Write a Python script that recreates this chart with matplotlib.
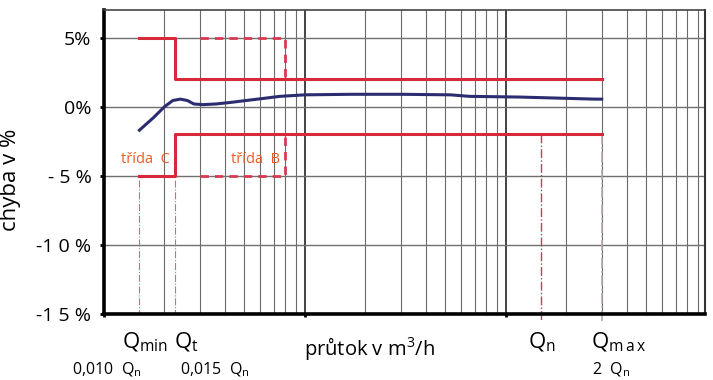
import numpy as np
import matplotlib
matplotlib.use('Agg')
import matplotlib.pyplot as plt
from matplotlib.ticker import LogLocator, NullFormatter, FixedLocator

plt.rcParams['font.family'] = ['Open Sans', 'DejaVu Sans']
plt.rcParams['mathtext.default'] = 'regular'

flow = [1.5, 1.76, 2.0, 2.2, 2.4, 2.6, 2.8, 3.1, 3.6, 4.2, 5.1, 6.2, 7.5,
        10, 17, 30, 53, 66, 117, 186, 277, 300]
error = [-1.7, -0.8, 0.0, 0.45, 0.55, 0.45, 0.2, 0.15, 0.2, 0.3, 0.45, 0.6, 0.75,
         0.86, 0.9, 0.9, 0.86, 0.75, 0.7, 0.62, 0.55, 0.55]

# characteristic flows
q_min, q_t, q_n, q_max = 1.5, 2.25, 150, 300

# error limits, class C (solid) and class B (dashed)
limit_c_flow = [q_min, q_t, q_t, q_max]
limit_c_upper = [5, 5, 2, 2]
limit_c_lower = [-5, -5, -2, -2]
limit_b_flow = [3, 8, 8]
limit_b_upper = [5, 5, 2]
limit_b_lower = [-5, -5, -2]

y_ticks = [5, 0, -5, -10, -15]
y_labels = ['5%', '0%', '- 5 %', '-1 0 %', '-1 5 %']

red = '#d8283a'
red_b = '#d83a52'
orange = '#f05a22'
navy = '#2c2c70'

fig = plt.figure(figsize=(7.13, 3.80), dpi=100)
ax = fig.add_axes([104 / 713, 1 - 314 / 380, 601 / 713, 304 / 380])

ax.set_xscale('log')
ax.set_xlim(1, 980)
ax.set_ylim(-15, 7)

# grid
ax.xaxis.set_major_locator(LogLocator(base=10, numticks=10))
ax.xaxis.set_minor_locator(LogLocator(base=10, subs=np.arange(2, 10), numticks=20))
ax.xaxis.set_major_formatter(NullFormatter())
ax.xaxis.set_minor_formatter(NullFormatter())
ax.grid(which='minor', axis='x', color='#6a6a6a', lw=0.8, zorder=0)
ax.grid(which='major', axis='x', color='#111111', lw=1.1, zorder=0)
ax.yaxis.set_major_locator(FixedLocator(y_ticks))
ax.set_yticklabels(y_labels)
ax.grid(which='major', axis='y', color='#707070', lw=1.0, zorder=0)
ax.set_axisbelow(True)

ax.tick_params(axis='y', which='major', length=3, width=2, direction='out',
               pad=6, labelsize=14, colors='black')
ax.tick_params(axis='x', which='major', length=2, width=2, direction='out')
ax.tick_params(axis='x', which='minor', length=0)

for side in ['left', 'bottom']:
    ax.spines[side].set_linewidth(2.6)
    ax.spines[side].set_color('black')
ax.spines['top'].set_linewidth(1.2)
ax.spines['top'].set_color('#444444')
ax.spines['right'].set_linewidth(1.5)
ax.spines['right'].set_color('#333333')

# characteristic flow markers
ax.plot([q_min, q_min], [-5.3, -15], color='#c8707c', lw=0.8, ls='-.', zorder=2)
ax.plot([q_t, q_t], [-5.3, -15], color='#c8707c', lw=0.8, ls='-.', zorder=2)
ax.plot([q_n, q_n], [-2, -15.5], color='#c0405a', lw=1.0, ls='-.', zorder=2, clip_on=False)
ax.plot([q_max, q_max], [-2, -15.5], color='#b8a8aa', lw=1.2, ls='-.', zorder=2, clip_on=False)

# limits
ax.plot(limit_c_flow, limit_c_upper, color=red, lw=2.2, zorder=3)
ax.plot(limit_c_flow, limit_c_lower, color=red, lw=2.2, zorder=3)
ax.plot(limit_b_flow, limit_b_upper, color=red_b, lw=2.0, ls=(0, (3, 2.2)), zorder=3)
ax.plot(limit_b_flow, limit_b_lower, color=red_b, lw=2.0, ls=(0, (3, 2.2)), zorder=3)

# meter curve
ax.plot(flow, error, color=navy, lw=2.2, zorder=4)

ax.text(1.6, -3.85, 'třída  C', color=orange, fontsize=10.5, ha='center', va='center')
ax.text(5.7, -3.85, 'třída  B', color=orange, fontsize=10.5, ha='center', va='center')

ax.set_ylabel('chyba v %', fontsize=16)
ax.yaxis.set_label_coords(-0.138, 0.44)

# labels under the flow axis
tr = ax.get_xaxis_transform()
ax.text(1.6, -0.095, 'Q$_{min}$', transform=tr, fontsize=16, ha='center', va='center')
ax.text(2.56, -0.095, 'Q$_{t}$', transform=tr, fontsize=16, ha='center', va='center')
ax.text(21, -0.112, 'průtok v m$^{3}$/h', transform=tr, fontsize=14.5, ha='center', va='center')
ax.text(152, -0.095, 'Q$_{n}$', transform=tr, fontsize=16, ha='center', va='center')
ax.text(366, -0.095, r'Q$_{m\,a\,x}$', transform=tr, fontsize=16, ha='center', va='center')
ax.text(1.03, -0.185, '0,010  Q$_{n}$', transform=tr, fontsize=11.5, ha='center', va='center')
ax.text(3.57, -0.185, '0,015  Q$_{n}$', transform=tr, fontsize=11.5, ha='center', va='center')
ax.text(333, -0.185, '2  Q$_{n}$', transform=tr, fontsize=11.5, ha='center', va='center')

fig.savefig('out.png', dpi=100)
